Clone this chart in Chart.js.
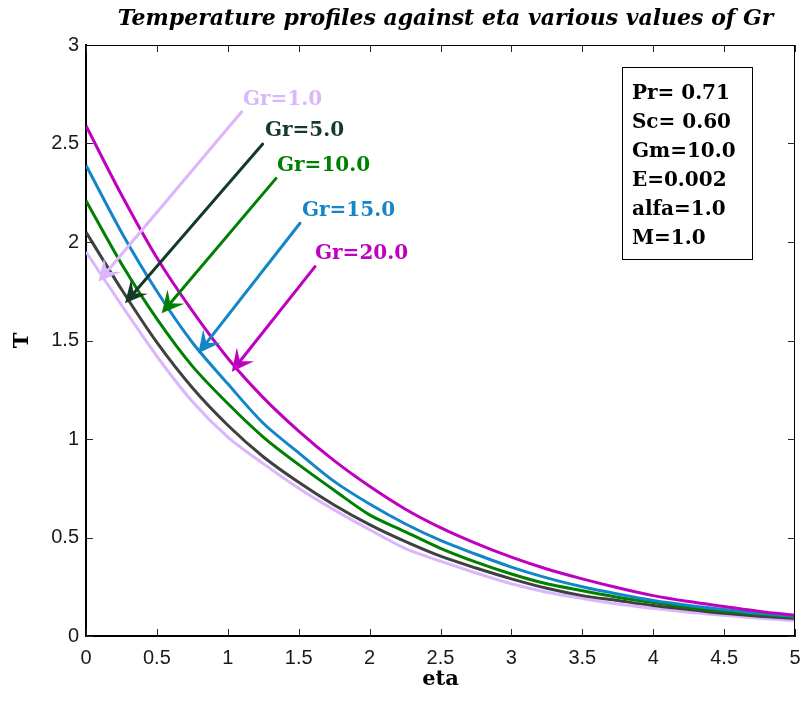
<!DOCTYPE html>
<html>
<head>
<meta charset="utf-8">
<script src="https://cdn.jsdelivr.net/npm/chart.js@4.4.1/dist/chart.umd.min.js"></script>
<style>
  html, body { margin: 0; padding: 0; background: #ffffff; }
  #wrap { width: 804px; height: 704px; }
</style>
</head>
<body>
<div id="wrap"><canvas id="grChart" width="804" height="704"></canvas></div>
<script>
const eta = [0, 0.25, 0.5, 0.75, 1, 1.25, 1.5, 1.75, 2, 2.25, 2.5, 2.75, 3, 3.25, 3.5, 3.75, 4, 4.25, 4.5, 4.75, 5];

// perfis de temperatura T para cada Gr
const tGr1  = [1.95, 1.68, 1.42, 1.19, 1.01, 0.875, 0.75, 0.64, 0.54, 0.445, 0.38, 0.32, 0.265, 0.222, 0.19, 0.162, 0.14, 0.12, 0.105, 0.09, 0.078];
const tGr5  = [2.05, 1.76, 1.49, 1.26, 1.07, 0.91, 0.78, 0.665, 0.565, 0.48, 0.405, 0.345, 0.29, 0.242, 0.205, 0.18, 0.155, 0.135, 0.115, 0.1, 0.09];
const tGr10 = [2.21, 1.89, 1.61, 1.37, 1.18, 1.01, 0.87, 0.74, 0.615, 0.53, 0.445, 0.375, 0.315, 0.265, 0.23, 0.197, 0.17, 0.145, 0.125, 0.11, 0.095];
const tGr15 = [2.39, 2.05, 1.75, 1.49, 1.28, 1.08, 0.93, 0.785, 0.67, 0.57, 0.485, 0.415, 0.35, 0.295, 0.25, 0.213, 0.18, 0.155, 0.135, 0.115, 0.1];
const tGr20 = [2.59, 2.24, 1.92, 1.65, 1.41, 1.21, 1.04, 0.89, 0.76, 0.645, 0.55, 0.47, 0.4, 0.34, 0.29, 0.245, 0.205, 0.175, 0.15, 0.125, 0.105];

const grLabels = ['Gr=1.0', 'Gr=5.0', 'Gr=10.0', 'Gr=15.0', 'Gr=20.0'];
const grColors = ['#dcb6fc', '#404040', '#008000', '#1486c8', '#bf00bf'];

// setas: inicio (perto do rotulo) e ponta (na curva), em coordenadas (eta, T)
const arrowStartEta = [1.098, 1.246, 1.340, 1.509, 1.615];
const arrowStartT   = [2.661, 2.497, 2.323, 2.095, 1.875];
const arrowTipEta   = [0.087, 0.275, 0.534, 0.792, 1.028];
const arrowTipT     = [1.798, 1.689, 1.638, 1.435, 1.342];
const labelEta      = [1.107, 1.262, 1.347, 1.523, 1.615];
const labelT        = [2.720, 2.563, 2.386, 2.157, 1.939];
const arrowColors   = ['#dcb6fc', '#143a28', '#008000', '#1486c8', '#bf00bf'];

// caixa de parametros
const paramLines = ['Pr= 0.71', 'Sc= 0.60', 'Gm=10.0', 'E=0.002', 'alfa=1.0', 'M=1.0'];

const xTicks = [0, 0.5, 1, 1.5, 2, 2.5, 3, 3.5, 4, 4.5, 5];
const yTicks = [0, 0.5, 1, 1.5, 2, 2.5, 3];

const tickFont = { family: '"Liberation Sans", Arial, sans-serif', size: 20 };
const serifBold = '"DejaVu Serif", "Liberation Serif", serif';

// moldura, ticks internos, titulo, setas e caixa de texto
const decorPlugin = {
    id: 'decor',
    afterDatasetsDraw(chart) {
        const { ctx, chartArea: a, scales: { x, y } } = chart;
        ctx.save();

        // ticks para dentro (embaixo/esquerda e espelhados em cima/direita)
        ctx.strokeStyle = '#262626';
        ctx.lineWidth = 1;
        const tl = 7;
        xTicks.forEach(v => {
            const px = Math.round(x.getPixelForValue(v)) + 0.5;
            ctx.beginPath();
            ctx.moveTo(px, a.bottom); ctx.lineTo(px, a.bottom - tl);
            ctx.moveTo(px, a.top); ctx.lineTo(px, a.top + tl);
            ctx.stroke();
        });
        yTicks.forEach(v => {
            const py = Math.round(y.getPixelForValue(v)) + 0.5;
            ctx.beginPath();
            ctx.moveTo(a.left, py); ctx.lineTo(a.left + tl, py);
            ctx.moveTo(a.right, py); ctx.lineTo(a.right - tl, py);
            ctx.stroke();
        });

        // bordas de cima e da direita
        ctx.strokeStyle = '#000000';
        ctx.beginPath();
        ctx.moveTo(a.left, a.top + 0.5); ctx.lineTo(a.right, a.top + 0.5);
        ctx.moveTo(a.right - 0.5, a.top); ctx.lineTo(a.right - 0.5, a.bottom);
        ctx.stroke();

        // setas com rotulos
        for (let i = 0; i < grLabels.length; i++) {
            const x0 = x.getPixelForValue(arrowStartEta[i]);
            const y0 = y.getPixelForValue(arrowStartT[i]);
            const x1 = x.getPixelForValue(arrowTipEta[i]);
            const y1 = y.getPixelForValue(arrowTipT[i]);
            const ang = Math.atan2(y1 - y0, x1 - x0);
            const L = 22, W = 11, notch = 0.6 * L;
            const ux = Math.cos(ang), uy = Math.sin(ang);
            const nx = -uy, ny = ux;
            ctx.strokeStyle = arrowColors[i];
            ctx.fillStyle = arrowColors[i];
            ctx.lineWidth = 3;
            ctx.lineCap = 'round';
            ctx.beginPath();
            ctx.moveTo(x0, y0);
            ctx.lineTo(x1 - ux * notch, y1 - uy * notch);
            ctx.stroke();
            ctx.beginPath();
            ctx.moveTo(x1, y1);
            ctx.lineTo(x1 - ux * L + nx * W, y1 - uy * L + ny * W);
            ctx.lineTo(x1 - ux * notch, y1 - uy * notch);
            ctx.lineTo(x1 - ux * L - nx * W, y1 - uy * L - ny * W);
            ctx.closePath();
            ctx.fill();

            ctx.font = 'bold 20px ' + serifBold;
            ctx.textAlign = 'left';
            ctx.textBaseline = 'middle';
            ctx.fillText(grLabels[i], x.getPixelForValue(labelEta[i]), y.getPixelForValue(labelT[i]));
        }

        // caixa de parametros
        const bx0 = x.getPixelForValue(3.78), by0 = y.getPixelForValue(2.888);
        const bx1 = x.getPixelForValue(4.697), by1 = y.getPixelForValue(1.914);
        ctx.fillStyle = '#ffffff';
        ctx.fillRect(bx0, by0, bx1 - bx0, by1 - by0);
        ctx.strokeStyle = '#000000';
        ctx.lineWidth = 1;
        ctx.strokeRect(Math.round(bx0) + 0.5, Math.round(by0) + 0.5, Math.round(bx1 - bx0), Math.round(by1 - by0));
        ctx.fillStyle = '#000000';
        ctx.font = 'bold 20px ' + serifBold;
        ctx.textAlign = 'left';
        ctx.textBaseline = 'middle';
        paramLines.forEach((s, k) => {
            ctx.fillText(s, x.getPixelForValue(3.85), y.getPixelForValue(2.751) + k * 29);
        });

        // titulo
        ctx.font = 'italic bold 22px ' + serifBold;
        ctx.textAlign = 'center';
        ctx.textBaseline = 'middle';
        ctx.fillText('Temperature profiles against eta various values of Gr', (a.left + a.right) / 2 + 5, 19);

        ctx.restore();
    }
};

const seriesT = [tGr1, tGr5, tGr10, tGr15, tGr20];
const datasets = seriesT.map((vals, i) => ({
    label: grLabels[i],
    data: eta.map((e, k) => ({ x: e, y: vals[k] })),
    borderColor: grColors[i],
    backgroundColor: grColors[i],
    borderWidth: 3,
    pointRadius: 0,
    tension: 0.3,
    fill: false,
    order: 5 - i
}));

// sem folga extra por causa dos rotulos das pontas
function noEdgePadding(s) {
    s.paddingLeft = 0; s.paddingRight = 0;
    s.paddingTop = 0; s.paddingBottom = 0;
}

const ctx = document.getElementById('grChart').getContext('2d');
const grChart = new Chart(ctx, {
    type: 'line',
    data: { datasets: datasets },
    options: {
        responsive: false,
        animation: false,
        layout: { padding: { top: 45, right: 9, left: 0, bottom: 0 } },
        plugins: {
            legend: { display: false },
            tooltip: { enabled: false }
        },
        scales: {
            x: {
                type: 'linear',
                min: 0, max: 5,
                afterFit: s => { s.height = 68; noEdgePadding(s); },
                afterBuildTicks: s => { s.ticks = xTicks.map(v => ({ value: v })); },
                grid: { display: false, drawTicks: false },
                border: { display: true, color: '#000000', width: 2 },
                ticks: { color: '#1a1a1a', font: tickFont, padding: 10, maxRotation: 0, autoSkip: false,
                         callback: v => String(v) },
                title: {
                    display: true, text: 'eta', color: '#000000',
                    font: { family: serifBold, size: 21, weight: 'bold' },
                    padding: { top: 0, bottom: 12 }
                }
            },
            y: {
                type: 'linear',
                min: 0, max: 3,
                afterFit: s => { s.width = 86; noEdgePadding(s); },
                afterBuildTicks: s => { s.ticks = yTicks.map(v => ({ value: v })); },
                grid: { display: false, drawTicks: false },
                border: { display: true, color: '#000000', width: 2 },
                ticks: { color: '#1a1a1a', font: tickFont, padding: 7, autoSkip: false,
                         callback: v => String(v) },
                title: {
                    display: true, text: 'T', color: '#000000',
                    font: { family: serifBold, size: 21, weight: 'bold' },
                    padding: { top: 10, bottom: 0 }
                }
            }
        }
    },
    plugins: [decorPlugin]
});
</script>
</body>
</html>
